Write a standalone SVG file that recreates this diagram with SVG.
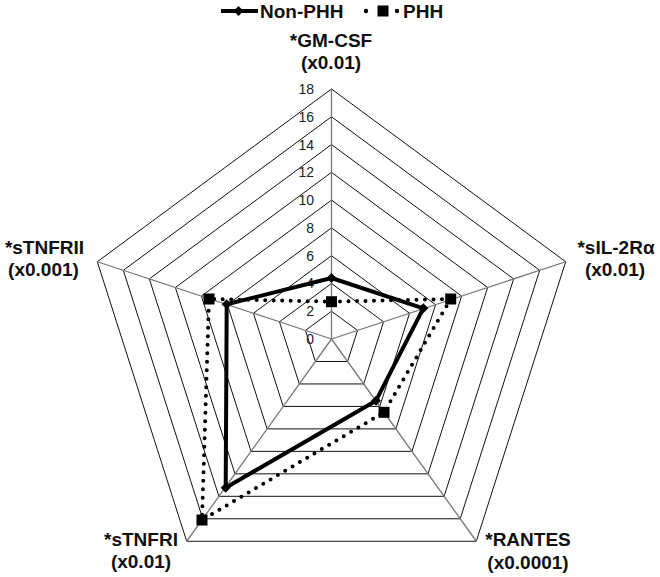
<svg xmlns="http://www.w3.org/2000/svg" width="660" height="577" viewBox="0 0 660 577">
<style>
.ring{fill:none;stroke:#111;stroke-width:1}
.spoke{stroke:#777;stroke-width:1.3}
.tick{font-family:"Liberation Sans",Arial,sans-serif;font-size:14px;fill:#222;text-anchor:end}
.lab{font-family:"Liberation Sans",Arial,sans-serif;font-size:19px;font-weight:bold;fill:#111;text-anchor:middle}
.leg{font-family:"Liberation Sans",Arial,sans-serif;font-size:19px;font-weight:bold;fill:#111}
.solid{fill:none;stroke:#000;stroke-width:4;stroke-linejoin:round}
.dot{fill:none;stroke:#000;stroke-width:4;stroke-linecap:round;stroke-dasharray:0 8.5}
</style>
<defs>
<path id="dia" d="M0,-5 L5,0 L0,5 L-5,0Z" fill="#000"/>
<rect id="sq" x="-5.5" y="-5.5" width="11" height="11" fill="#000"/>
</defs>
<rect width="660" height="577" fill="#fff"/>
<g id="grid">
<polygon class="ring" points="331.5,311.22 357.52,330.42 347.59,361.47 315.41,361.47 305.48,330.42"/>
<polygon class="ring" points="331.5,283.44 383.54,321.83 363.68,383.94 299.32,383.94 279.46,321.83"/>
<polygon class="ring" points="331.5,255.67 409.57,313.25 379.77,406.42 283.23,406.42 253.43,313.25"/>
<polygon class="ring" points="331.5,227.89 435.59,304.67 395.86,428.89 267.14,428.89 227.41,304.67"/>
<polygon class="ring" points="331.5,200.11 461.61,296.08 411.94,451.36 251.06,451.36 201.39,296.08"/>
<polygon class="ring" points="331.5,172.33 487.63,287.5 428.03,473.83 234.97,473.83 175.37,287.5"/>
<polygon class="ring" points="331.5,144.56 513.66,278.92 444.12,496.31 218.88,496.31 149.34,278.92"/>
<polygon class="ring" points="331.5,116.78 539.68,270.33 460.21,518.78 202.79,518.78 123.32,270.33"/>
<polygon class="ring" points="331.5,89 565.7,261.75 476.3,541.25 186.7,541.25 97.3,261.75"/>
<line class="spoke" x1="331.5" y1="339" x2="331.5" y2="89"/>
<line class="spoke" x1="331.5" y1="339" x2="565.7" y2="261.75"/>
<line class="spoke" x1="331.5" y1="339" x2="476.3" y2="541.25"/>
<line class="spoke" x1="331.5" y1="339" x2="186.7" y2="541.25"/>
<line class="spoke" x1="331.5" y1="339" x2="97.3" y2="261.75"/>
</g>
<g id="ticks">
<text class="tick" x="314" y="344">0</text>
<text class="tick" x="314" y="316.2">2</text>
<text class="tick" x="314" y="288.4">4</text>
<text class="tick" x="314" y="260.7">6</text>
<text class="tick" x="314" y="232.9">8</text>
<text class="tick" x="314" y="205.1">10</text>
<text class="tick" x="314" y="177.3">12</text>
<text class="tick" x="314" y="149.6">14</text>
<text class="tick" x="314" y="121.8">16</text>
<text class="tick" x="314" y="94">18</text>
</g>
<g id="axis-gmcsf"><text class="lab" x="331" y="46.5">*GM-CSF</text><text class="lab" x="331" y="68.5">(x0.01)</text></g>
<g id="axis-sil2ra"><text class="lab" x="616" y="253.5">*sIL-2Rα</text><text class="lab" x="615" y="276">(x0.01)</text></g>
<g id="axis-rantes"><text class="lab" x="528" y="545.5">*RANTES</text><text class="lab" x="528" y="568.5">(x0.0001)</text></g>
<g id="axis-stnfri"><text class="lab" x="141" y="545.5">*sTNFRI</text><text class="lab" x="141" y="568">(x0.01)</text></g>
<g id="axis-stnfrii"><text class="lab" x="44.5" y="253.5">*sTNFRII</text><text class="lab" x="43.5" y="276">(x0.001)</text></g>
<g id="series-phh">
<polygon class="dot" points="331.5,301.7 450.7,299 384,412.3 202,520 209,299"/>
<use href="#sq" x="331.5" y="301.7"/>
<use href="#sq" x="450.7" y="299"/>
<use href="#sq" x="384" y="412.3"/>
<use href="#sq" x="202" y="520"/>
<use href="#sq" x="209" y="299"/>
</g>
<g id="series-nonphh">
<polygon class="solid" points="331.5,278 423.3,308.3 376,400.7 225.7,487.7 226.7,304.3"/>
<use href="#dia" x="331.5" y="278"/>
<use href="#dia" x="423.3" y="308.3"/>
<use href="#dia" x="376" y="400.7"/>
<use href="#dia" x="225.7" y="487.7"/>
<use href="#dia" x="226.7" y="304.3"/>
</g>
<g id="legend">
<line x1="221" y1="11" x2="258" y2="11" stroke="#000" stroke-width="4"/>
<use href="#dia" x="238.5" y="11"/>
<text class="leg" x="260" y="18">Non-PHH</text>
<circle cx="366" cy="11" r="2.2" fill="#000"/>
<use href="#sq" x="383" y="11"/>
<circle cx="397" cy="11" r="2.2" fill="#000"/>
<text class="leg" x="403" y="18">PHH</text>
</g>
</svg>
